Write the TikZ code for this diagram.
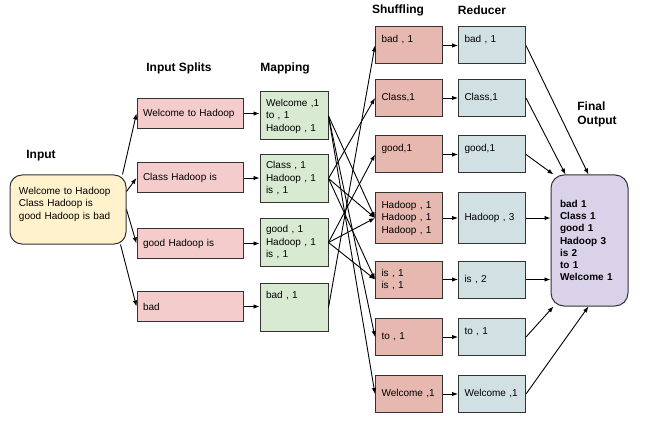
\documentclass[tikz,border=0pt]{standalone}
\usepackage{fontspec}
\setmainfont{Liberation Sans}
\usetikzlibrary{arrows.meta}
\definecolor{boxline}{HTML}{333333}
\definecolor{inputfill}{HTML}{FFF2CC}
\definecolor{splitfill}{HTML}{F4CCCC}
\definecolor{mapfill}{HTML}{D9EAD3}
\definecolor{shufflefill}{HTML}{E6B8AF}
\definecolor{reducefill}{HTML}{D0E0E3}
\definecolor{outputfill}{HTML}{D9D2E9}
\begin{document}
\begin{tikzpicture}[x=1pt, y=-1pt,
    box/.style={draw=boxline, line width=1pt, align=left, inner xsep=6pt, inner ysep=2pt,
        font=\fontsize{10}{12.5}\selectfont},
    splitbox/.style={box, fill=splitfill, minimum width=106pt, text width=94pt, minimum height=30pt},
    mapbox/.style={box, fill=mapfill, minimum width=68pt, text width=56pt, minimum height=48pt},
    shufbox/.style={box, fill=shufflefill, minimum width=67pt, text width=55pt, minimum height=37pt},
    redbox/.style={box, fill=reducefill, minimum width=67pt, text width=55pt, minimum height=37pt},
    title/.style={font=\fontsize{12}{14}\selectfont\bfseries, align=left},
    arr/.style={-{Latex[length=6pt,width=4.5pt]}, line width=0.9pt}]
    \useasboundingbox (0,0) rectangle (667,425);

    % Input
    \node[title] (tin) at (41,156) {Input};
    \node[box, fill=inputfill, rounded corners=12pt, inner xsep=9pt, minimum width=116pt,
        text width=98pt, minimum height=69pt] (in) at (68,209.5)
        {Welcome to Hadoop\\Class Hadoop is\\good Hadoop is bad\\~};

    % Splits
    \node[title] (tsp) at (179,68) {Input Splits};
    \node[splitbox] (sp1) at (190,113.5) {Welcome to Hadoop};
    \node[splitbox] (sp2) at (190,178) {Class Hadoop is};
    \node[splitbox] (sp3) at (190,243.5) {good Hadoop is};
    \node[splitbox] (sp4) at (190,306.5) {bad};

    % Mapping
    \node[title] (tmp) at (285,68) {Mapping};
    \node[mapbox] (mp1) at (294,116) {Welcome ,1\\to , 1\\Hadoop , 1};
    \node[mapbox] (mp2) at (294,178.5) {Class , 1\\Hadoop , 1\\is , 1};
    \node[mapbox] (mp3) at (294,242.5) {good , 1\\Hadoop , 1\\is , 1};
    \node[mapbox] (mp4) at (294,307.5) {bad , 1\\~\\~};

    % Shuffling
    \node[title] (tsh) at (398,10) {Shuffling};
    \node[shufbox] (sh1) at (409,45.5) {bad , 1\\~};
    \node[shufbox] (sh2) at (409,98) {Class,1};
    \node[shufbox] (sh3) at (409,154.5) {good,1\\~};
    \node[shufbox, minimum height=50pt] (sh4) at (409,218) {Hadoop , 1\\Hadoop , 1\\Hadoop , 1};
    \node[shufbox] (sh5) at (409,279.5) {is , 1\\is , 1};
    \node[shufbox] (sh6) at (409,337) {to ,  1};
    \node[shufbox] (sh7) at (409,394) {Welcome ,1};

    % Reducer
    \node[title] (trd) at (482,10) {Reducer};
    \node[redbox] (rd1) at (492,45.5) {bad , 1\\~};
    \node[redbox] (rd2) at (492,98) {Class,1};
    \node[redbox] (rd3) at (492,154.5) {good,1\\~};
    \node[redbox, minimum height=50pt] (rd4) at (492,218) {Hadoop , 3};
    \node[redbox] (rd5) at (492,279.5) {is , 2};
    \node[redbox] (rd6) at (492,337) {to ,  1\\~};
    \node[redbox] (rd7) at (492,394) {Welcome ,1};

    % Final output
    \node[title] (tout) at (597,114) {Final\\Output};
    \node[box, fill=outputfill, rounded corners=13pt, inner xsep=9pt, minimum width=77pt,
        text width=59pt, minimum height=131pt, font=\fontsize{10}{12.3}\selectfont\bfseries]
        (out) at (589.5,240.5)
        {bad 1\\Class 1\\good 1\\Hadoop 3\\is 2\\to 1\\Welcome 1};

    % input -> splits
    \draw[arr] ([xshift=-4pt]in.north east) -- (sp1.west);
    \draw[arr] ([yshift=18pt]in.east) -- (sp2.west);
    \draw[arr] (in.east) -- (sp3.west);
    \draw[arr] ([xshift=-6pt]in.south east) -- (sp4.west);
    \foreach \i in {1,...,4} \draw[arr] (sp\i.east) -- (sp\i.east -| mp\i.west);

    % mapping -> shuffling
    \foreach \a/\b in {mp1/sh7, mp1/sh6, mp1/sh4, mp2/sh2, mp2/sh4, mp2/sh5,
        mp3/sh3, mp3/sh4, mp3/sh5, mp4/sh1}
        \draw[arr] (\a.east) -- (\b.west);
    \foreach \i in {1,...,7} \draw[arr] (sh\i.east) -- (rd\i.west);

    % reducer -> output
    \draw[arr] (rd1.east) -- ([xshift=-1pt]out.north);
    \draw[arr] (rd2.east) -- ([xshift=-24pt]out.north);
    \draw[arr] (rd3.east) -- ([xshift=-36pt]out.north);
    \draw[arr] (rd4.east) -- (rd4.east -| out.west);
    \draw[arr] (rd5.east) -- (rd5.east -| out.west);
    \draw[arr] (rd6.east) -- ([xshift=-36pt]out.south);
    \draw[arr] (rd7.east) -- ([xshift=-1pt]out.south);
\end{tikzpicture}
\end{document}
